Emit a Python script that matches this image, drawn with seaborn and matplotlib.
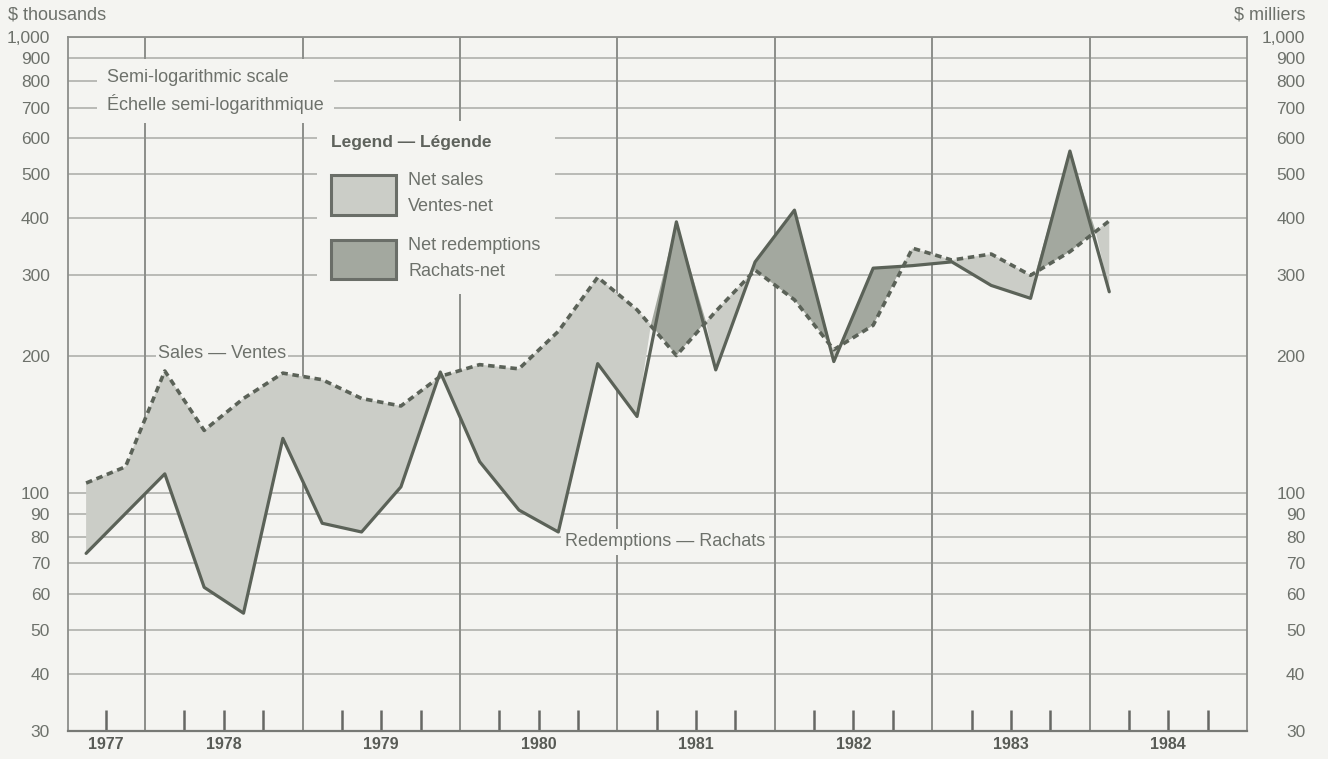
import numpy as np
import pandas as pd
import matplotlib
matplotlib.use("Agg")
import matplotlib.pyplot as plt
import matplotlib.ticker as mticker
from matplotlib.patches import Patch
import seaborn as sns

# quarterly data, 1977 Q3 .. 1984 Q1 ($ thousands)
quarters = [
    "1977Q3", "1977Q4",
    "1978Q1", "1978Q2", "1978Q3", "1978Q4",
    "1979Q1", "1979Q2", "1979Q3", "1979Q4",
    "1980Q1", "1980Q2", "1980Q3", "1980Q4",
    "1981Q1", "1981Q2", "1981Q3", "1981Q4",
    "1982Q1", "1982Q2", "1982Q3", "1982Q4",
    "1983Q1", "1983Q2", "1983Q3", "1983Q4",
    "1984Q1",
]
sales = [105, 114, 185, 137, 161, 183, 177, 161, 155, 180, 191, 187, 226,
         297, 252, 200, 250, 308, 265, 206, 233, 344, 324, 334, 300, 338, 395]
redemptions = [73.6, 90, 110, 62, 54.4, 131.6, 85.7, 82, 103, 184, 117, 91.6, 82,
               192, 147, 393, 186, 321, 417, 194, 311, 315, 321, 285, 267, 562, 276]

years = [1977, 1978, 1979, 1980, 1981, 1982, 1983, 1984]
year_label_pos = [1977.75, 1978.5, 1979.5, 1980.5, 1981.5, 1982.5, 1983.5, 1984.5]
year_bounds = [1978, 1979, 1980, 1981, 1982, 1983, 1984]
y_ticks = [30, 40, 50, 60, 70, 80, 90, 100, 200, 300, 400, 500, 600, 700, 800, 900, 1000]
y_labels = [f"{v:,}" for v in y_ticks]

BG = "#f4f4f1"
LINE = "#5b6258"
LIGHT = "#cbcdc7"
DARK = "#a3a89f"
TXT = "#6d716b"
GRID = "#b4b5b1"
FS = 13

df = pd.DataFrame({"quarter": quarters, "sales": sales, "redemptions": redemptions})
df["t"] = [int(q[:4]) + (int(q[-1]) - 1) * 0.25 + 0.125 for q in df["quarter"]]

sns.set_style("white")
plt.rcParams["font.family"] = ["Liberation Sans", "DejaVu Sans"]

W, H = 1328, 759
fig = plt.figure(figsize=(W / 100, H / 100), dpi=100, facecolor=BG)
ax = fig.add_axes([68 / W, 28 / H, (1247 - 68) / W, (731 - 37) / H])
ax.set_facecolor(BG)
ax.set_yscale("log")
ax.set_xlim(1977.51, 1985.0)
ax.set_ylim(30, 1000)

# grid
for v in y_ticks:
    ax.axhline(v, color=GRID, lw=1.3, zorder=1)
ax.vlines(year_bounds, 30, 1000, color="#8c8e8a", lw=1.4, zorder=1)

# shaded areas between the two series
s = df["sales"].to_numpy()
r = df["redemptions"].to_numpy()
ax.fill_between(df["t"], s, r, where=s >= r, interpolate=True,
                color=LIGHT, lw=0, zorder=2)
ax.fill_between(df["t"], s, r, where=s < r, interpolate=True,
                color=DARK, lw=0, zorder=2)

sns.lineplot(data=df, x="t", y="redemptions", ax=ax, color=LINE, lw=2.3, zorder=4)
sns.lineplot(data=df, x="t", y="sales", ax=ax, color=LINE, lw=2.6,
             linestyle=(0, (1.8, 1.3)), zorder=4)

ax.set_xlabel("")
ax.set_ylabel("")
for side in ["left", "right", "bottom", "top"]:
    ax.spines[side].set_color("#8c8e8a")
    ax.spines[side].set_linewidth(1.3)
ax.spines["bottom"].set_color("#777975")
ax.spines["bottom"].set_linewidth(1.6)

# x axis: quarter marks, year names under the middle mark
quarter_marks = [1977.75] + [y + f for y in range(1978, 1985) for f in (0.25, 0.5, 0.75)]
minor_marks = [m for m in quarter_marks if m not in year_label_pos]
ax.xaxis.set_major_locator(mticker.FixedLocator(year_label_pos))
ax.xaxis.set_major_formatter(mticker.FixedFormatter([str(y) for y in years]))
ax.xaxis.set_minor_locator(mticker.FixedLocator(minor_marks))
ax.tick_params(axis="x", which="both", direction="in", length=15, width=1.8,
               color="#666864", bottom=True, top=False)
ax.tick_params(axis="x", which="major", pad=4, labelsize=11.5, labelcolor="#585b56")
for lab in ax.get_xticklabels():
    lab.set_fontweight("bold")

# y axis, labels on both sides
ax.set_yticks(y_ticks, labels=y_labels)
ax.yaxis.set_minor_locator(mticker.NullLocator())
ax.tick_params(axis="y", which="both", length=0, pad=13, labelsize=12.5, labelcolor=TXT)

ax2 = ax.twinx()
ax2.set_yscale("log")
ax2.set_ylim(30, 1000)
ax2.set_yticks(y_ticks, labels=y_labels, ha="right")
ax2.yaxis.set_minor_locator(mticker.NullLocator())
ax2.tick_params(axis="y", which="both", length=0, pad=42, labelsize=12.5, labelcolor=TXT)
for side in ax2.spines.values():
    side.set_visible(False)

fig.text(8 / W, 1 - 15 / H, "$ thousands", ha="left", va="center", fontsize=FS, color=TXT)
fig.text(1305 / W, 1 - 15 / H, "$ milliers", ha="right", va="center", fontsize=FS, color=TXT)

fig.text(107 / W, 1 - 91 / H, "Semi-logarithmic scale\nÉchelle semi-logarithmique",
         ha="left", va="center", fontsize=FS, color=TXT, linespacing=1.5, zorder=5,
         bbox=dict(facecolor=BG, edgecolor="none", pad=7))

ax.text(1978.08, 202, "Sales — Ventes", ha="left", va="center",
        fontsize=FS, color=TXT, zorder=5,
        bbox=dict(facecolor=BG, edgecolor="none", pad=1.5))
ax.text(1980.667, 78, "Redemptions — Rachats", ha="left", va="center",
        fontsize=FS, color=TXT, zorder=5,
        bbox=dict(facecolor=BG, edgecolor="none", pad=3))

handles = [
    Patch(facecolor=LIGHT, edgecolor="#6a6e68", linewidth=2.2, label="Net sales\nVentes-net"),
    Patch(facecolor=DARK, edgecolor="#6a6e68", linewidth=2.2, label="Net redemptions\nRachats-net"),
]
leg = fig.legend(handles=handles, title="Legend — Légende", loc="upper left",
                 bbox_to_anchor=(317 / W, 1 - 121 / H), bbox_transform=fig.transFigure,
                 fontsize=FS, title_fontsize=12.5, alignment="left",
                 handlelength=3.6, handleheight=3.0, handletextpad=0.65,
                 labelspacing=1.2, borderpad=0.8, borderaxespad=0,
                 frameon=True, facecolor=BG, edgecolor="none", framealpha=1, fancybox=False)
leg.get_title().set_fontweight("bold")
leg.get_title().set_color("#5e625c")
for t in leg.get_texts():
    t.set_color(TXT)
    t.set_linespacing(1.7)

fig.savefig("out.png", dpi=100, facecolor=BG)
